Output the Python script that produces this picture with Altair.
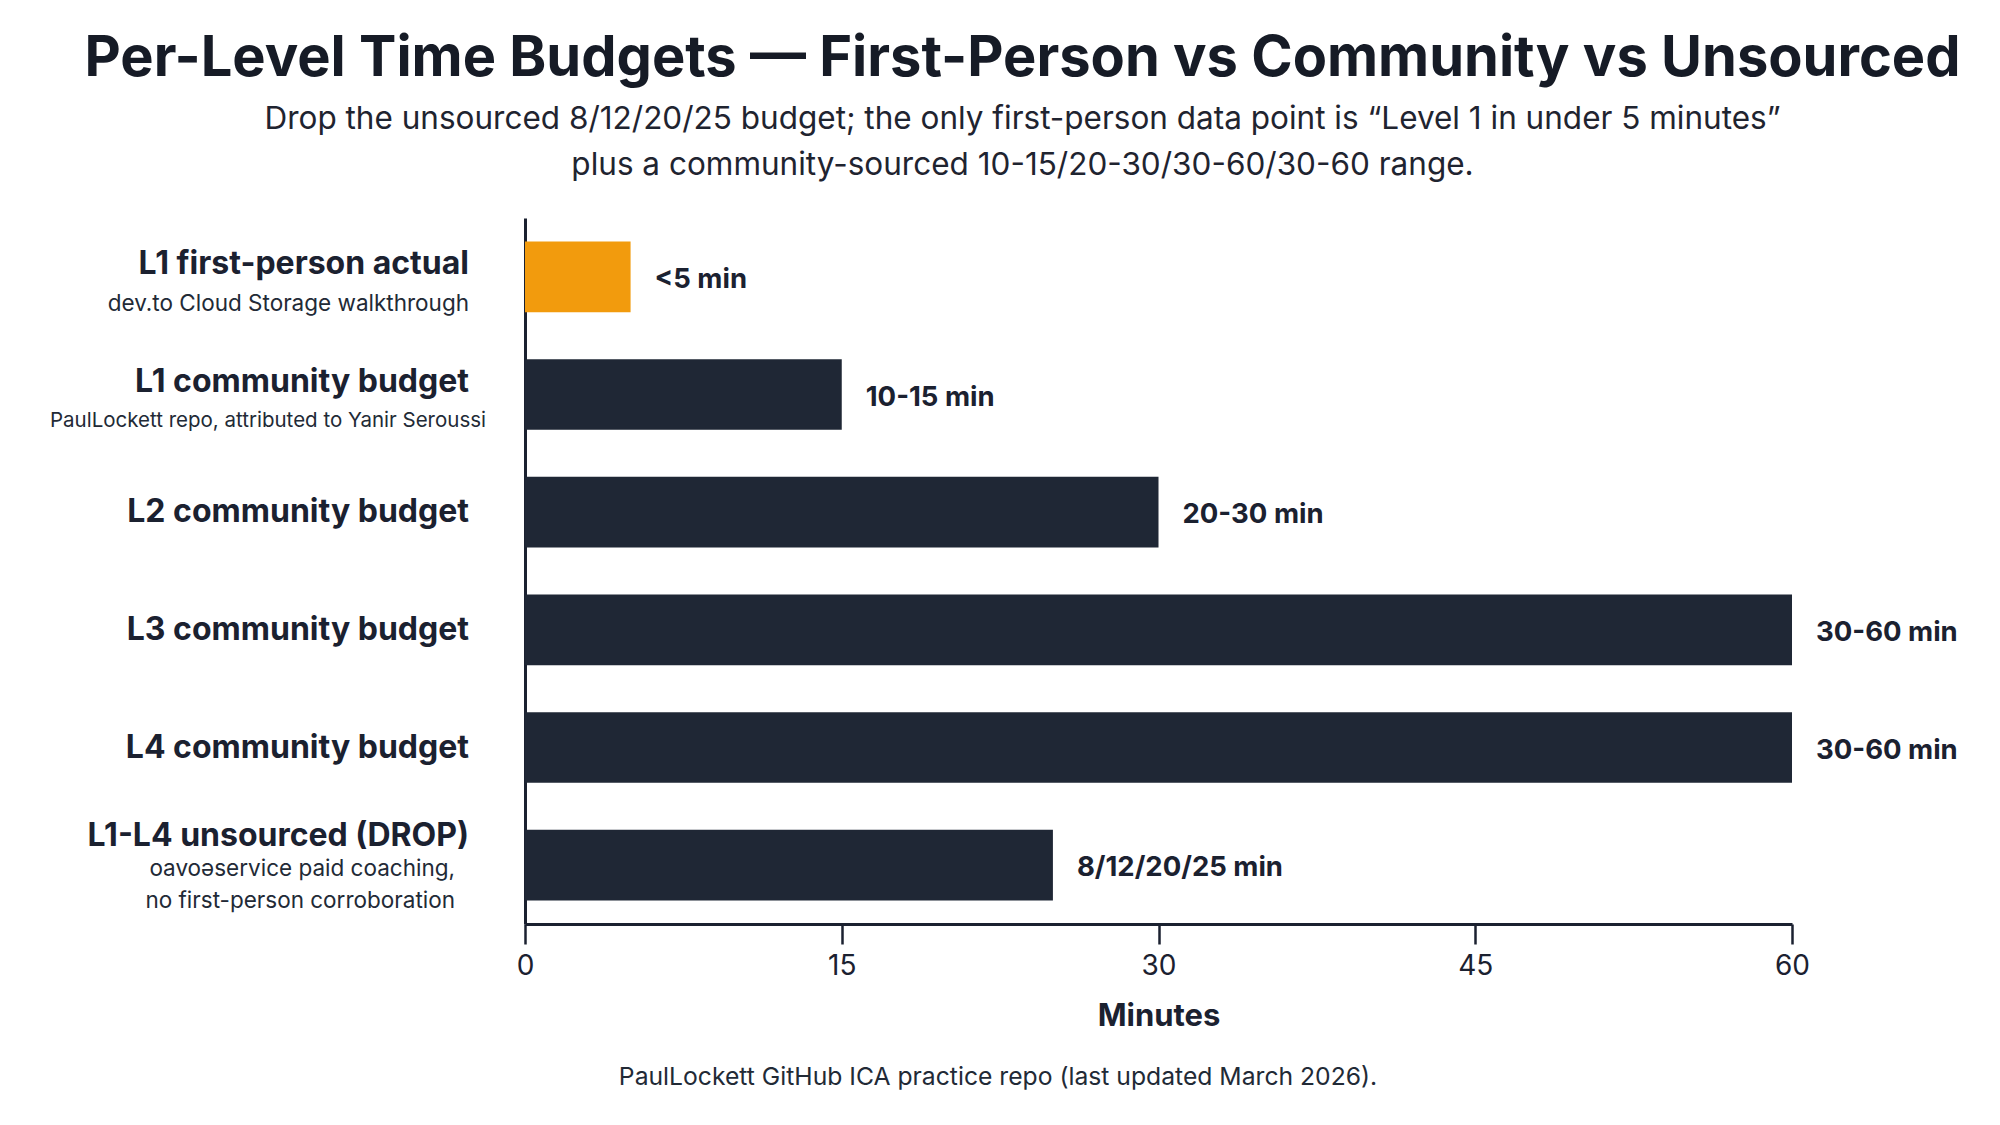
import altair as alt
import pandas as pd

# Rows, top to bottom
categories = [
    "L1 first-person actual",
    "L1 community budget",
    "L2 community budget",
    "L3 community budget",
    "L4 community budget",
    "L1-L4 unsourced (DROP)",
]
notes = [
    "dev.to Cloud Storage walkthrough",
    "PaulLockett repo, attributed to Yanir Seroussi",
    "",
    "",
    "",
    "oavoəservice paid coaching,\nno first-person corroboration",
]
# Upper bound of each budget, in minutes
minutes = [5, 15, 30, 60, 60, 25]
value_labels = ["<5 min", "10-15 min", "20-30 min", "30-60 min", "30-60 min", "8/12/20/25 min"]
sources = ["first-person", "community", "community", "community", "community", "unsourced"]
x_ticks = [0, 15, 30, 45, 60]

title_text = "Per-Level Time Budgets \u2014 First-Person vs Community vs Unsourced"
subtitle_lines = [
    "Drop the unsourced 8/12/20/25 budget; the only first-person data point is \u201cLevel 1 in under 5 minutes\u201d",
    "plus a community-sourced 10-15/20-30/30-60/30-60 range.",
]
footer_text = "PaulLockett GitHub ICA practice repo (last updated March 2026)."

NAVY = "#1f2735"
ORANGE = "#f29b0d"
INK = "#1b2130"
FONT = "Inter"

df = pd.DataFrame({
    "category": categories,
    "note": notes,
    "minutes": minutes,
    "label": value_labels,
    "source": sources,
})
df["note_lines"] = df["note"].apply(lambda s: 0 if s == "" else len(s.split("\n")))
df["row"] = range(len(df))

W, H = 1267, 706
PAD_L, PAD_T = 525, 218

y_enc = alt.Y(
    "category:N",
    sort=categories,
    scale=alt.Scale(paddingInner=0.4, paddingOuter=0.2),
    axis=alt.Axis(labels=False, ticks=False, title=None, domainColor=INK,
                  domainWidth=3, grid=False),
)

base = alt.Chart(df)

bars = base.mark_bar().encode(
    x=alt.X(
        "minutes:Q",
        scale=alt.Scale(domain=[0, 60], nice=False),
        axis=alt.Axis(values=x_ticks, title="Minutes", grid=False,
                      domainColor=INK, domainWidth=3, tickColor=INK,
                      tickWidth=2.5, tickSize=20, labelFontSize=28,
                      labelColor=INK, labelFont=FONT, labelPadding=8,
                      labelFlush=False,
                      titleFontSize=31, titleFont=FONT, titleFontWeight="bold",
                      titleColor=INK, titlePadding=21),
    ),
    y=y_enc,
    color=alt.Color(
        "source:N",
        scale=alt.Scale(domain=["first-person", "community", "unsourced"],
                        range=[ORANGE, NAVY, NAVY]),
        legend=None,
    ),
)

values = base.mark_text(align="left", baseline="middle", dx=24, dy=3, font=FONT,
                        fontSize=27.5, fontWeight="bold", color=INK).encode(
    x="minutes:Q", y=alt.Y("category:N", sort=categories), text="label:N"
)

main_style = dict(align="right", baseline="middle", font=FONT, fontSize=32,
                  fontWeight="bold", color=INK)
note_style = dict(align="right", baseline="middle", font=FONT,
                  color="#222a36", lineBreak="\n", lineHeight=32)

label_x = alt.value(-56)
ysort = alt.Y("category:N", sort=categories)

main0 = base.transform_filter("datum.note_lines == 0").mark_text(**main_style).encode(
    x=label_x, y=ysort, text="category:N")
main1 = base.transform_filter("datum.note_lines == 1").mark_text(dy=-13, **main_style).encode(
    x=label_x, y=ysort, text="category:N")
main2 = base.transform_filter("datum.note_lines == 2").mark_text(dy=-29, **main_style).encode(
    x=label_x, y=ysort, text="category:N")
# single-line notes: the first sits under its label, the longer second one runs a bit wider
note_a = base.transform_filter("datum.row == 0").mark_text(dy=27, fontSize=22.5, **note_style).encode(
    x=label_x, y=ysort, text="note:N")
note_b = base.transform_filter("datum.row == 1").mark_text(dy=26, fontSize=20.5, **note_style).encode(
    x=alt.value(-39), y=ysort, text="note:N")
note2 = base.transform_filter("datum.note_lines == 2").mark_text(dy=4, fontSize=22.5, **note_style).encode(
    x=alt.value(-70), y=ysort, text="note:N")

footer = alt.Chart(pd.DataFrame({"t": [footer_text]})).mark_text(
    align="center", baseline="middle", font=FONT, fontSize=24.7, color="#222a36"
).encode(x=alt.value(473), y=alt.value(860), text="t:N")

chart = alt.layer(bars, values, main0, main1, main2, note_a, note_b, note2, footer).properties(
    width=W,
    height=H,
    padding={"left": PAD_L, "top": PAD_T, "right": 2000 - PAD_L - W, "bottom": 1125 - PAD_T - H},
    autosize=alt.AutoSizeParams(type="none"),
    background="white",
    title=alt.TitleParams(
        text=title_text,
        subtitle=subtitle_lines,
        anchor="middle",
        frame="group",
        dx=-136,
        offset=36,
        font=FONT,
        fontSize=56,
        fontWeight="bold",
        color="#161b26",
        subtitleFont=FONT,
        subtitleFontSize=31.5,
        subtitleColor="#1f2430",
        subtitleLineHeight=46,
        subtitlePadding=16,
    ),
).configure_view(stroke=None)

chart.save("out.html", embed_options={"renderer": "svg", "actions": False})
